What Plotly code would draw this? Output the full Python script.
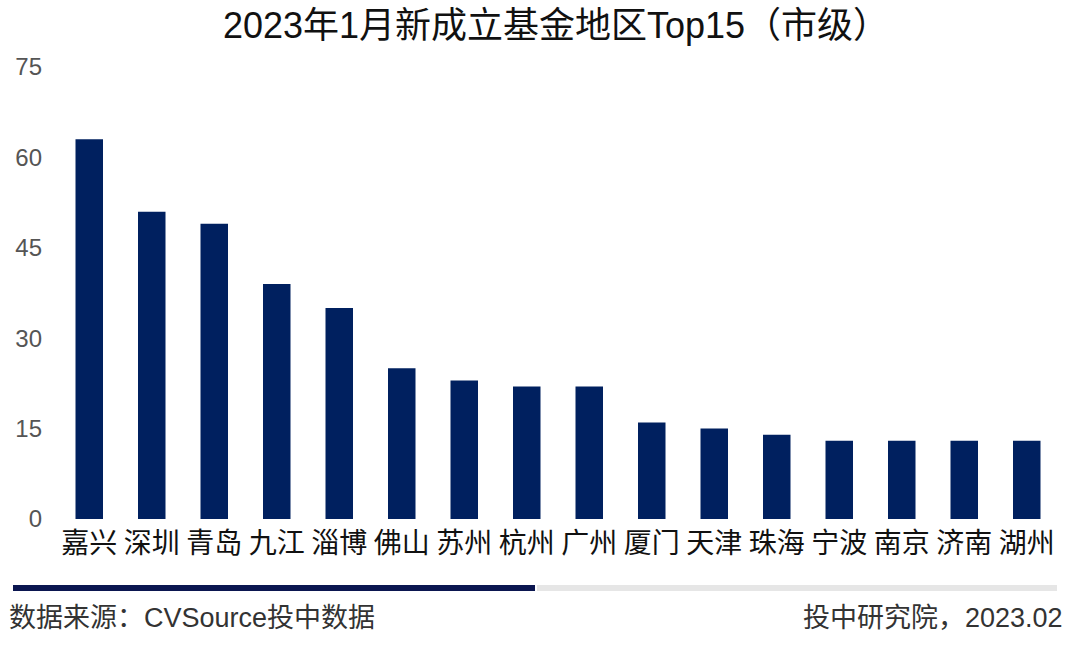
import plotly.graph_objects as go

categories = ["嘉兴", "深圳", "青岛", "九江", "淄博", "佛山", "苏州", "杭州",
              "广州", "厦门", "天津", "珠海", "宁波", "南京", "济南", "湖州"]
values = [63, 51, 49, 39, 35, 25, 23, 22, 22, 16, 15, 14, 13, 13, 13, 13]
y_ticks = [0, 15, 30, 45, 60, 75]

title_text = "2023年1月新成立基金地区Top15（市级）"
source_text = "数据来源：CVSource投中数据"
credit_text = "投中研究院，2023.02"

FONT = "Liberation Sans, Arial, Noto Sans CJK SC, sans-serif"
NAVY = "#00205f"

fig = go.Figure()
fig.add_trace(go.Bar(
    x=categories, y=values,
    marker=dict(color=NAVY, line=dict(width=0)),
    width=0.44,
))

W, H = 1080, 667
# plot area in page pixels
PL, PR, PT, PB = 58, 1058, 67, 519
pw, ph = PR - PL, PB - PT

def px(x):
    return (x - PL) / pw

def py(y):
    return (PB - y) / ph

fig.update_layout(
    width=W, height=H,
    margin=dict(l=PL, r=W - PR, t=PT, b=H - PB, autoexpand=False),
    paper_bgcolor="white", plot_bgcolor="white",
    showlegend=False,
    font=dict(family=FONT),
    title=dict(text=title_text, x=556 / W, xanchor="center",
               y=1 - 25 / H, yanchor="middle", xref="container", yref="container",
               font=dict(size=36, color="#111111", family=FONT)),
    xaxis=dict(showgrid=False, zeroline=False, showline=False, ticks="",
               tickfont=dict(size=28, color="#111111", family=FONT),
               ticklabelstandoff=5),
    yaxis=dict(range=[0, 75], tickvals=y_ticks, showgrid=False, zeroline=False,
               showline=False, ticks="",
               tickfont=dict(size=24, color="#555555", family=FONT),
               ticklabelstandoff=15),
    shapes=[
        dict(type="rect", xref="paper", yref="paper",
             x0=px(13), x1=px(535), y0=py(585), y1=py(591),
             fillcolor="#0b1650", line=dict(width=0)),
        dict(type="rect", xref="paper", yref="paper",
             x0=px(537), x1=px(1057), y0=py(585), y1=py(591),
             fillcolor="#e6e6e6", line=dict(width=0)),
    ],
    annotations=[
        dict(text=source_text, xref="paper", yref="paper", x=px(7), y=py(618),
             xanchor="left", yanchor="middle", showarrow=False,
             font=dict(size=27, color="#333333", family=FONT)),
        dict(text=credit_text, xref="paper", yref="paper", x=px(1065), y=py(618),
             xanchor="right", yanchor="middle", showarrow=False,
             font=dict(size=27, color="#333333", family=FONT)),
    ],
)

fig.write_html("out.html",
               config={"displayModeBar": False},
               post_script="document.body.style.margin='0px';document.body.style.overflow='hidden';")
